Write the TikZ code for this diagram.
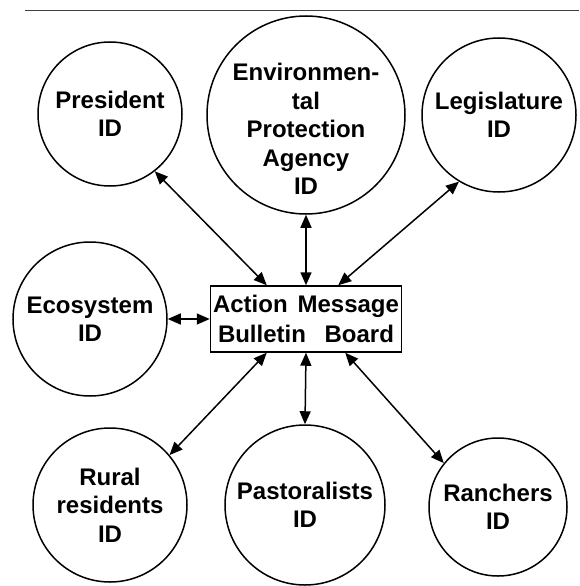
\documentclass[tikz,border=0pt]{standalone}
\usepackage{fontspec}
\setsansfont{Liberation Sans}
\usetikzlibrary{arrows.meta}

\begin{document}
\begin{tikzpicture}[
  x=1pt, y=-1pt,
  idtext/.style={align=center, font=\sffamily\bfseries\fontsize{24}{28.5}\selectfont},
  idnode/.style={idtext, draw, circle, line width=1.5pt, inner sep=0pt},
  msgbox/.style={idtext, draw, rectangle, line width=1.5pt, minimum width=191pt,
    minimum height=66pt, inner sep=0pt},
  link/.style={{Triangle[length=13pt,width=11pt]}-{Triangle[length=13pt,width=11pt]},
    line width=1.5pt}
]
  \useasboundingbox (0,0) rectangle (579,586);

  % --- top rule ---
  \draw[black!75, line width=0.9pt] (25,10) -- (579,10);

  % --- bulletin board ---
  \node[msgbox] (board) at (306,319)
    {\makebox[186pt][s]{Action Message}\\[1pt]\makebox[176pt][s]{Bulletin Board}};

  % --- upper row ---
  \node[idnode, minimum size=144pt] (pres) at (110,114) {President\\ID};
  \node[idnode, minimum size=198pt,
    label={[idtext, yshift=-14pt]center:Environmen-\\tal\\Protection\\Agency\\ID}]
    (epa) at (306,115) {};
  \node[idnode, minimum size=154pt] (legis) at (499,115) {Legislature\\ID};

  % --- middle ---
  \node[idnode, minimum size=154pt] (eco) at (90,319) {Ecosystem\\ID};

  % --- lower row ---
  \node[idnode, minimum size=154pt] (rural) at (110,505) {Rural\\residents\\ID};
  \node[idnode, minimum size=160pt] (pastor) at (305,505) {Pastoralists\\ID};
  \node[idnode, minimum size=138pt] (ranch) at (498,507) {Ranchers\\ID};

  % links to the board
  \draw[link] (pres.-52) -- ([xshift=57pt]board.north west);
  \draw[link] (epa.south) -- (board.north);
  \draw[link] (legis.-121) -- ([xshift=-64pt]board.north east);
  \draw[link] (eco.east) -- (board.west);
  \draw[link] ([xshift=57pt]board.south west) -- (rural.40);
  \draw[link] (board.south) -- (pastor.north);
  \draw[link] ([xshift=-57pt]board.south east) -- (ranch.141);

\end{tikzpicture}
\end{document}
